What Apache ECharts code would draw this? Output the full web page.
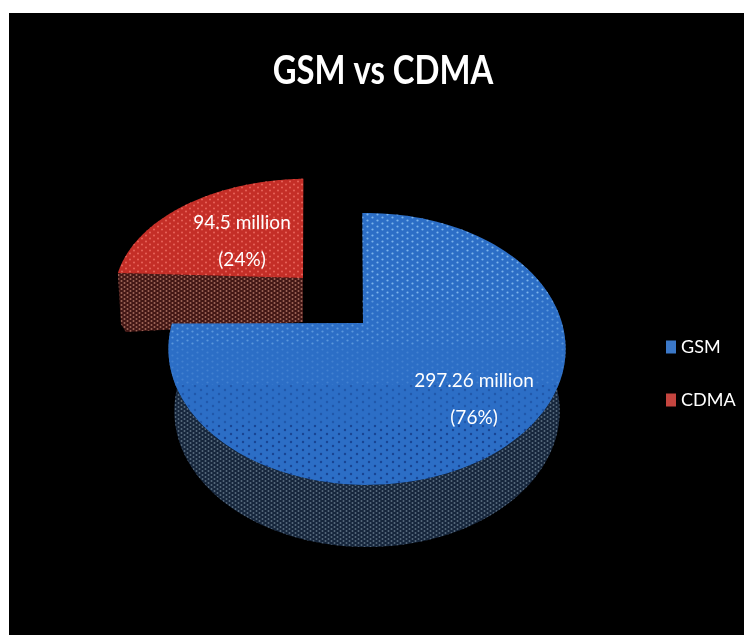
<!DOCTYPE html>
<html>
<head>
<meta charset="utf-8">
<style>html,body{margin:0;padding:0;background:#fff}#chart{width:744px;height:635px}</style>
<script src="https://cdn.jsdelivr.net/npm/echarts@6/dist/echarts.min.js"></script>
</head>
<body>
<div id="chart"></div>
<script>
// Subscriber base by handset technology, in millions
const chartTitle = 'GSM vs CDMA';
const categories = ['GSM', 'CDMA'];
const subscribers = [297.26, 94.5];
const percentLabels = ['76%', '24%'];

const total = subscribers[0] + subscribers[1];
const FONT = 'Lato, "Open Sans", sans-serif';

// Dotted fills used on the slice faces and walls
function dots(dot, size, pitchX, pitchY) {
  const c = document.createElement('canvas');
  c.width = pitchX * 2; c.height = pitchY * 2;
  const g = c.getContext('2d');
  g.fillStyle = dot;
  [[0, 0], [pitchX, pitchY]].forEach(p => {
    g.beginPath(); g.arc(p[0] + pitchX / 2, p[1] + pitchY / 2, size, 0, Math.PI * 2); g.fill();
  });
  return { image: c, repeat: 'repeat' };
}

// Tilted-disc projection for each slice: the polar scale supplies the angle,
// these settings turn it into a perspective rim on screen
const POLAR_CX = 200, POLAR_CY = 200, POLAR_R = 100;
const lightDots = dots('#86bcf0', 1.1, 5, 3);
const darkDots = dots('#173f8a', 1.2, 6, 4);
// Dot layers on the GSM face, fading from light at the back to dark at the front
const faceBands = [
  { to: 300, fill: lightDots, opacity: 0.9 },
  { to: 345, fill: lightDots, opacity: 0.55 },
  { to: 385, fill: lightDots, opacity: 0.25 },
  { to: 425, fill: darkDots, opacity: 0.45 },
  { to: 600, fill: darkDots, opacity: 0.85 }
];
const slices = [
  {
    cx: 367, cy: 327, rx: 196, ry: 132.4, k: 0.1618,
    apex: [363, 323], depth: 62, bottomScale: 0.97,
    wallFrom: 55,
    face: '#2c6ec6', wall: '#16263c',
    wallDots: dots('#586b7e', 1.0, 3, 2),
    label: [474, 381]
  },
  {
    cx: 308, cy: 276, rx: 191, ry: 113, k: 0.1618,
    apex: [303, 278], apexDepth: 44, depth: 59,
    face: '#c42e27', wall: '#431715',
    faceDots: dots('#e8655c', 1.0, 4, 3), wallDots: dots('#a0685a', 1.0, 3, 2),
    label: [242, 223]
  }
];

function rimPoint(api, s, value, bottom) {
  const p = api.coord([1, value]);
  const u = (p[0] - POLAR_CX) / POLAR_R;
  const v = -(p[1] - POLAR_CY) / POLAR_R;
  const w = 1 + s.k * v;
  const scale = bottom ? (s.bottomScale || 1) : 1;
  return [s.cx + s.rx * scale * u / w, s.cy - s.ry * v / w + (bottom ? s.depth : 0)];
}

function sweep(from, to) {
  const out = [];
  for (let i = 0; i <= 120; i++) out.push(from + (to - from) * i / 120);
  return out;
}

function poly(points, fill, opacity) {
  return {
    type: 'polygon', shape: { points },
    style: { fill, opacity: opacity === undefined ? 1 : opacity }, silent: true
  };
}

function renderSlice(index) {
  return function (params, api) {
    const s = slices[index];
    const start = index === 0 ? 0 : subscribers[0];
    const end = start + subscribers[index];
    const rim = sweep(start, end).map(a => rimPoint(api, s, a, false));
    const faceShape = [s.apex].concat(rim);
    const children = [];

    if (index === 0) {
      // Curved outer wall along the front of the disc
      const wallSteps = sweep(total * s.wallFrom / 360, end);
      const wallShape = wallSteps.map(a => rimPoint(api, s, a, false))
        .concat(wallSteps.slice().reverse().map(a => rimPoint(api, s, a, true)));
      children.push(poly(wallShape, s.wall), poly(wallShape, s.wallDots));
      children.push(poly(faceShape, s.face));
      let from = 0;
      faceBands.forEach(b => {
        const band = faceShape.map(p => [p[0], Math.min(Math.max(p[1], from), b.to)]);
        children.push(poly(band, b.fill, b.opacity));
        from = b.to;
      });
    } else {
      // Flat cut wall facing the viewer
      const left = rim[0];
      const wallShape = [
        left, s.apex,
        [s.apex[0], s.apex[1] + s.apexDepth],
        [left[0] + 8, left[1] + s.depth],
        [left[0] + 3, left[1] + s.depth - 8]
      ];
      children.push(poly(wallShape, s.wall), poly(wallShape, s.wallDots));
      children.push(poly(faceShape, s.face), poly(faceShape, s.faceDots));
    }

    [subscribers[index] + ' million', '(' + percentLabels[index] + ')'].forEach((line, i) => {
      children.push({
        type: 'text', silent: true,
        style: {
          x: s.label[0], y: s.label[1] + i * 36.5, text: line,
          fill: '#fff', font: '19px ' + FONT, align: 'center', verticalAlign: 'middle'
        }
      });
    });
    return { type: 'group', children };
  };
}

const seriesColors = ['#3b78c8', '#c5453f'];

const chart = echarts.init(document.getElementById('chart'), null, { renderer: 'canvas' });
chart.setOption({
  animation: false,
  backgroundColor: '#fff',
  graphic: [{
    type: 'rect', z: -10, silent: true,
    shape: { x: 9, y: 13, width: 735, height: 622 },
    style: { fill: '#000' }
  }, {
    // Heading, set tall and condensed
    type: 'text', silent: true,
    x: 383, y: 71, scaleX: 0.82,
    style: {
      text: chartTitle, fill: '#fff',
      font: 'bold 40px ' + FONT, align: 'center', verticalAlign: 'middle'
    }
  }],
  legend: {
    orient: 'vertical',
    left: 661, top: 333,
    data: categories,
    icon: 'rect',
    itemWidth: 10, itemHeight: 13, itemGap: 35,
    textStyle: { color: '#fff', fontFamily: FONT, fontSize: 18 }
  },
  polar: { center: [POLAR_CX, POLAR_CY], radius: POLAR_R },
  // Rotated a touch so the wedge cut sits square with the page
  angleAxis: { type: 'value', min: 0, max: total, startAngle: 91.6, clockwise: true, show: false },
  radiusAxis: { type: 'value', min: 0, max: 1, show: false },
  series: categories.map((name, i) => ({
    type: 'custom',
    name,
    coordinateSystem: 'polar',
    z: i === 0 ? 3 : 2,
    clip: false,
    itemStyle: { color: seriesColors[i] },
    data: [[subscribers[i]]],
    renderItem: renderSlice(i)
  }))
});
</script>
</body>
</html>
